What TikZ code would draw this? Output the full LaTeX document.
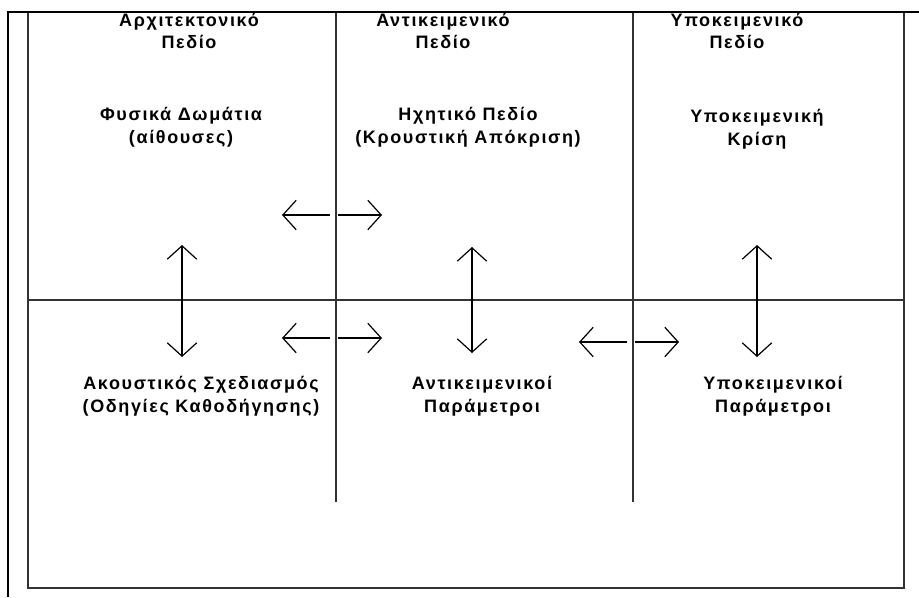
\documentclass[tikz,border=0pt]{standalone}
\usepackage{fontspec}
\setmainfont{Liberation Sans}
\newfontfamily\grfont[LetterSpace=9]{Liberation Sans Bold}
\usetikzlibrary{arrows.meta,positioning}

\tikzset{wbarb/.tip={Straight Barb[length=10pt,width=22pt]}}

\begin{document}
\begin{tikzpicture}[
        x=0.75pt, y=-0.75pt,
        every node/.style={font=\grfont\fontsize{13.5}{17}\selectfont},
        txt/.style={align=center, inner sep=0pt},
        outer/.style={draw=black, line width=1.6pt},
        grid/.style={draw=black!80, line width=1.1pt},
        arrow/.style={-wbarb, line width=0.9pt, draw=black},
        both/.style={wbarb-wbarb, line width=0.9pt, draw=black}
        ]

        \useasboundingbox (0,0) rectangle (919,597);

        % frame and grid
        \coordinate (fa) at (28,12);
        \coordinate (fb) at (904,588);
        \draw[grid] (fa) rectangle (fb);
        \draw[grid] (28,300) -- (904,300);
        \draw[grid] (336,12) -- (336,502);
        \draw[grid] (633,12) -- (633,502);
        \draw[outer] (8,597) -- (8,12) -- (919,12);

        % texts
        \node[txt] (archhead) at (189,31) {Αρχιτεκτονικό\\Πεδίο};
        \node[txt] (objhead) at (443,31) {Αντικειμενικό\\Πεδίο};
        \node[txt] (subjhead) at (737,31) {Υποκειμενικό\\Πεδίο};
        \node[txt] (rooms) at (181,127) {Φυσικά Δωμάτια\\(αίθουσες)};
        \node[txt] (soundfield) at (468,127) {Ηχητικό Πεδίο\\(Κρουστική Απόκριση)};
        \node[txt] (judgement) at (757,129) {Υποκειμενική\\Κρίση};
        \node[txt] (design) at (201,396) {Ακουστικός Σχεδιασμός\\(Οδηγίες Καθοδήγησης)};
        \node[txt] (objparams) at (482,396) {Αντικειμενικοί\\Παράμετροι};
        \node[txt] (subjparams) at (773,396) {Υποκειμενικοί\\Παράμετροι};

        % vertical arrows
        \foreach \n/\x/\t/\b in {a/182/245/357, b/472/247/353, c/757/245/357} {
            \coordinate (up\n) at (\x,\t);
            \coordinate (down\n) at (\x,\b);
            \draw[both] (up\n) -- (down\n);
        }

        % horizontal arrows
        \foreach \n/\x/\y in {a/336/215, b/336/338, c/633/342} {
            \coordinate (ls\n) at (\x-6,\y);
            \coordinate (le\n) at (\x-54,\y);
            \coordinate (rs\n) at (\x+2,\y);
            \coordinate (re\n) at (\x+46,\y);
            \draw[arrow] (ls\n) -- (le\n);
            \draw[arrow] (rs\n) -- (re\n);
        }

    \end{tikzpicture}
\end{document}
